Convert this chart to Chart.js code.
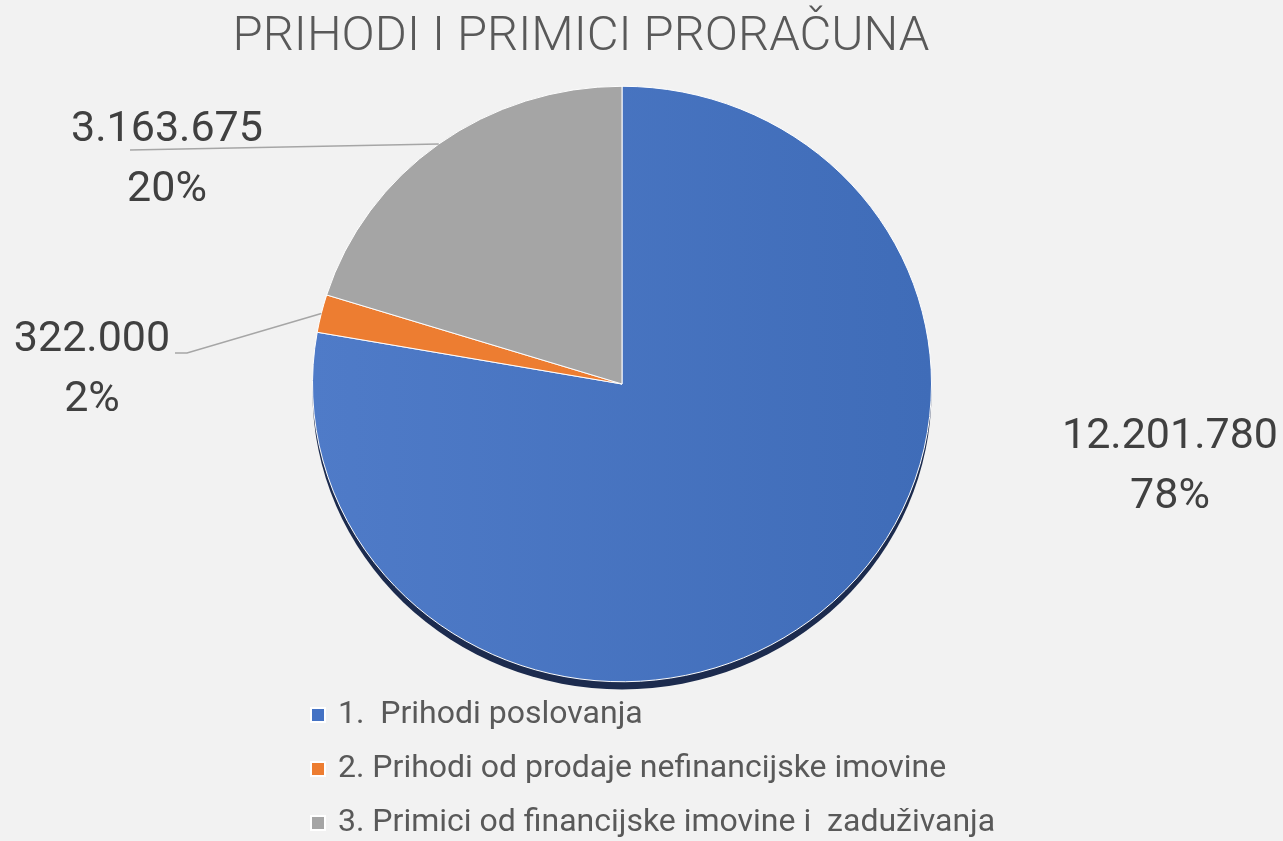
<!DOCTYPE html>
<html>
<head>
<meta charset="utf-8">
<script src="https://cdn.jsdelivr.net/npm/chart.js@4.4.1/dist/chart.umd.min.js"></script>
<style>
    html, body { margin: 0; padding: 0; background: #f2f2f2; }
    #wrap { position: relative; width: 1283px; height: 841px; }
</style>
</head>
<body>
<div id="wrap"><canvas id="c" width="1283" height="841"></canvas></div>
<script>
const titleText = "PRIHODI I PRIMICI PRORAČUNA";
const categories = [
    "1.  Prihodi poslovanja",
    "2. Prihodi od prodaje nefinancijske imovine",
    "3. Primici od financijske imovine i  zaduživanja",
];
const amounts = [12201780, 322000, 3163675];
const amountLabels = ["12.201.780", "322.000", "3.163.675"];
const percentLabels = ["78%", "2%", "20%"];
const colors = ["#4472C4", "#ED7D31", "#A5A5A5"];

const FONT = "Roboto, 'Noto Sans', sans-serif";
const Y_SQUASH = 0.962;

// soft left-to-right shading like the office chart
function sliceFill(ctx) {
    const area = ctx.chart.chartArea;
    const base = colors[ctx.dataIndex];
    if (!area || ctx.dataIndex !== 0) {
        return base;
    }
    const g = ctx.chart.ctx.createLinearGradient(area.left, 0, area.right, 0);
    g.addColorStop(0, "#4f7bc8");
    g.addColorStop(1, "#3f6cb8");
    return g;
}

// slight 3d look: squash vertically and put a dark rim under the pie
const tiltPlugin = {
    id: "tilt",
    beforeDatasetsDraw(chart) {
        const arc = chart.getDatasetMeta(0).data[0];
        const ctx = chart.ctx;
        ctx.save();
        ctx.translate(arc.x, arc.y);
        ctx.scale(1, Y_SQUASH);
        ctx.translate(-arc.x, -arc.y);
        ctx.beginPath();
        ctx.arc(arc.x, arc.y + 8, arc.outerRadius, 0, Math.PI * 2);
        ctx.fillStyle = "#1c2b4e";
        ctx.fill();
    },
    afterDatasetsDraw(chart) {
        chart.ctx.restore();
    },
};

// title, sitting a bit left of the pie centre as in the original
const titlePlugin = {
    id: "leftTitle",
    afterDraw(chart) {
        const ctx = chart.ctx;
        ctx.save();
        ctx.fillStyle = "#595959";
        ctx.font = "300 49px " + FONT;
        ctx.textAlign = "center";
        ctx.textBaseline = "middle";
        ctx.fillText(titleText, 581, 38);
        ctx.restore();
    },
};

// value / percent labels with leader lines
const labelPlugin = {
    id: "sliceLabels",
    afterDraw(chart) {
        const ctx = chart.ctx;
        const arcs = chart.getDatasetMeta(0).data;
        const edge = (a) => {
            const mid = (a.startAngle + a.endAngle) / 2;
            return {
                x: a.x + Math.cos(mid) * a.outerRadius,
                y: a.y + Math.sin(mid) * a.outerRadius * Y_SQUASH,
            };
        };
        const spots = [
            { x: 1170, y: 437 },
            { x: 92, y: 340 },
            { x: 167, y: 130 },
        ];
        ctx.save();
        ctx.strokeStyle = "#a6a6a6";
        ctx.lineWidth = 1.5;
        // orange leader
        let p = edge(arcs[1]);
        ctx.beginPath();
        ctx.moveTo(p.x, p.y);
        ctx.lineTo(187, 353);
        ctx.lineTo(175, 353);
        ctx.stroke();
        // gray leader
        p = edge(arcs[2]);
        ctx.beginPath();
        ctx.moveTo(p.x, p.y);
        ctx.lineTo(130, 150);
        ctx.stroke();

        ctx.fillStyle = "#404040";
        ctx.font = "43px " + FONT;
        ctx.textAlign = "center";
        ctx.textBaseline = "middle";
        spots.forEach((s, i) => {
            ctx.fillText(amountLabels[i], s.x, s.y);
            ctx.fillText(percentLabels[i], s.x, s.y + 60);
        });
        ctx.restore();
    },
};

// vertical legend under the pie
const legendPlugin = {
    id: "vLegend",
    afterDraw(chart) {
        const ctx = chart.ctx;
        ctx.save();
        ctx.font = "32px " + FONT;
        ctx.textBaseline = "middle";
        ctx.textAlign = "left";
        categories.forEach((name, i) => {
            const y = 715 + i * 54;
            ctx.fillStyle = "#ffffff";
            ctx.fillRect(310, y - 8, 16, 16);
            ctx.fillStyle = colors[i];
            ctx.fillRect(312, y - 6, 12, 12);
            ctx.fillStyle = "#595959";
            ctx.fillText(name, 338, y);
        });
        ctx.restore();
    },
};

new Chart(document.getElementById("c"), {
    type: "pie",
    data: {
        labels: categories,
        datasets: [{
            data: amounts,
            backgroundColor: sliceFill,
            borderColor: "#ffffff",
            borderWidth: 1,
        }],
    },
    options: {
        responsive: false,
        animation: false,
        layout: { padding: { left: 312, right: 351, top: 74, bottom: 147 } },
        plugins: {
            legend: { display: false },
            tooltip: { enabled: false },
            title: { display: false },
        },
    },
    plugins: [tiltPlugin, labelPlugin, legendPlugin, titlePlugin],
});
</script>
</body>
</html>
